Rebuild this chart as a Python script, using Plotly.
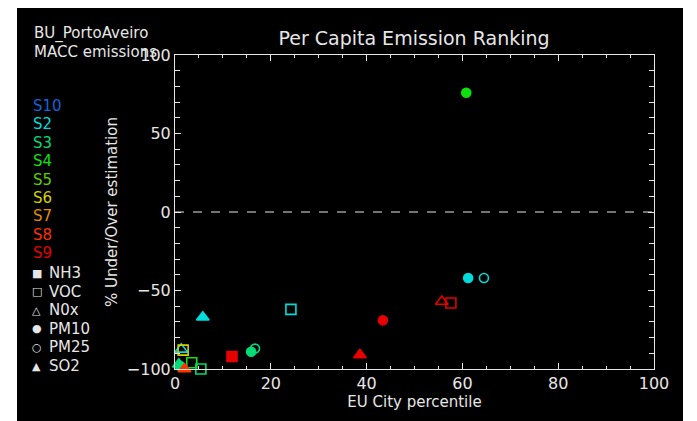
import plotly.graph_objects as go

# scenario legend and colours
scenarios = ["S10", "S2", "S3", "S4", "S5", "S6", "S7", "S8", "S9"]
scen_colors = ["#1464dc", "#00dcdc", "#00dc78", "#10e010", "#5ad200",
               "#d2d200", "#e68c00", "#ff3200", "#e60000"]

# species legend
species = ["NH3", "VOC", "NOx", "PM10", "PM25", "SO2"]
species_labels = ["NH3", "VOC", "N0x", "PM10", "PM25", "SO2"]
species_symbols = ["square", "square-open", "triangle-up-open",
                   "circle", "circle-open", "triangle-up"]
species_glyphs = ["■", "□", "△", "●", "○", "▲"]

# points: EU city percentile, % under/over estimation, scenario, species
pct = [60.8, 61.2, 64.5, 55.7, 57.6, 43.4, 38.6, 24.2, 5.8, 11.9,
       15.9, 16.7, 1.3, 1.7, 3.5, 5.4, 0.8, 1.0, 2.0, -0.3, 0.0]
bias = [76, -42, -42, -57, -58, -69, -91, -62, -67, -92,
        -89, -87, -87.5, -88, -96, -100, -97, -98, -100, -99, -101]
scen = ["S4", "S2", "S2", "S9", "S9", "S9", "S9", "S2", "S2", "S9",
        "S3", "S3", "S2", "S6", "S4", "S3", "S3", "S3", "S8", "S8", "S7"]
spec = ["PM10", "PM10", "PM25", "NOx", "VOC", "PM10", "SO2", "VOC", "SO2", "NH3",
        "PM10", "PM25", "NOx", "VOC", "VOC", "VOC", "SO2", "PM10", "SO2", "NH3", "SO2"]

FG = "#e6e6e6"
FONT = "DejaVu Sans"

# page offset (body margin) and plot-area geometry in page pixels
OFF = 8
FW, FH = 697, 421
X0, X1, Y0, Y1 = 175, 654, 55, 369
L, T = X0 - OFF, Y0 - OFF
R, B = FW - (X1 - OFF), FH - (Y1 - OFF)
PW, PH = X1 - X0, Y1 - Y0


def px(x):
    return (x - X0) / PW


def py(y):
    return (Y1 - y) / PH


cmap = dict(zip(scenarios, scen_colors))
smap = dict(zip(species, species_symbols))
sizes = {"square": 10, "square-open": 10, "triangle-up-open": 11,
         "circle": 9, "circle-open": 9, "triangle-up": 11}

fig = go.Figure()
for i in range(len(pct)):
    sym = smap[spec[i]]
    fig.add_trace(go.Scatter(
        x=[pct[i]], y=[bias[i]], mode="markers",
        marker=dict(symbol=sym, size=sizes[sym], color=cmap[scen[i]],
                    line=dict(width=1.6, color=cmap[scen[i]])),
        cliponaxis=False, showlegend=False,
        name=f"{scen[i]} {spec[i]}",
    ))

fig.add_hline(y=0, line_width=1, line_dash="dash", line_color=FG)

# black panel with white border around the figure
fig.add_shape(type="rect", xref="paper", yref="paper", layer="below",
              x0=px(17), x1=px(683), y0=py(440), y1=py(7),
              fillcolor="black", line_width=0)

ann = []
ann.append(dict(text="BU_PortoAveiro", x=px(32), y=py(34)))
ann.append(dict(text="MACC emissions", x=px(32), y=py(52)))
for k, (s, c) in enumerate(zip(scenarios, scen_colors)):
    ann.append(dict(text=s, x=px(31), y=py(106 + 18.4 * k), font_color=c))
for k, (g, lab) in enumerate(zip(species_glyphs, species_labels)):
    yy = py(273 + 18.6 * k)
    ann.append(dict(text=g, x=px(30), y=yy, font_size=11))
    ann.append(dict(text=lab, x=px(47), y=yy))
for a in ann:
    a.update(xref="paper", yref="paper", xanchor="left", yanchor="middle",
             showarrow=False)
    a.setdefault("font_size", 15)
    a.setdefault("font_color", FG)
    a["font"] = dict(family=FONT, size=a.pop("font_size"), color=a.pop("font_color"))
fig.update_layout(annotations=ann)

axis_common = dict(showgrid=False, zeroline=False, showline=True, linecolor=FG,
                   linewidth=1, mirror="allticks", ticks="inside", tickcolor=FG,
                   tickfont=dict(family=FONT, size=16, color=FG))
fig.update_xaxes(range=[0, 100], dtick=20, ticklen=6,
                 minor=dict(dtick=5, ticklen=3, ticks="inside", tickcolor=FG),
                 title=dict(text="EU City percentile", standoff=2,
                            font=dict(family=FONT, size=15, color=FG)),
                 **axis_common)
fig.update_yaxes(range=[-100, 100], dtick=50, ticklen=6,
                 minor=dict(dtick=10, ticklen=5, ticks="inside", tickcolor=FG),
                 title=dict(text="% Under/Over estimation", standoff=5,
                            font=dict(family=FONT, size=15, color=FG)),
                 **axis_common)

fig.update_layout(
    width=FW, height=FH,
    title=dict(text="Per Capita Emission Ranking", x=(414 - OFF) / FW,
               xanchor="center", y=1 - (38 - OFF) / FH, yanchor="middle",
               font=dict(family=FONT, size=19, color=FG)),
    paper_bgcolor="white", plot_bgcolor="black",
    margin=dict(l=L, r=R, t=T, b=B),
    showlegend=False,
)

fig.write_html("out.html")
